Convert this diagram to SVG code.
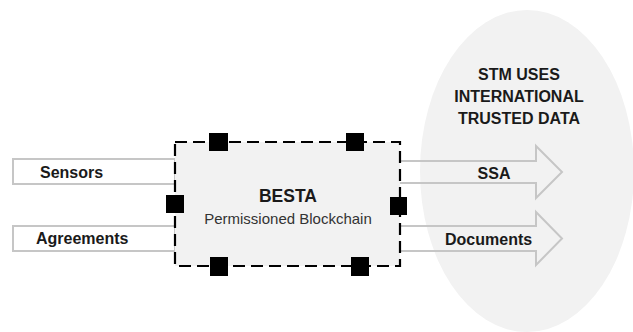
<svg xmlns="http://www.w3.org/2000/svg" width="633" height="332" viewBox="0 0 633 332">
  <style>
    .bar { fill: #ffffff; stroke: #c6c6c6; stroke-width: 2; }
    .arrow { fill: none; stroke: #c6c6c6; stroke-width: 2; stroke-linejoin: miter; }
    .lbl { font-family: "Liberation Sans", Arial, sans-serif; font-weight: bold; font-size: 16px; fill: #1a1a1a; }
    .port { fill: #000000; }
    .title { font-family: "Liberation Sans", Arial, sans-serif; font-weight: bold; font-size: 17.5px; fill: #1a1a1a; }
    .sub { font-family: "Liberation Sans", Arial, sans-serif; font-size: 15px; fill: #333333; }
  </style>
  <rect width="633" height="332" fill="#ffffff"/>

  <!-- consumer area -->
  <g id="stm">
    <ellipse cx="527" cy="171" rx="107" ry="161" fill="#f2f2f2"/>
    <text class="lbl" text-anchor="middle" x="519" y="80">STM USES</text>
    <text class="lbl" text-anchor="middle" x="519" y="102">INTERNATIONAL</text>
    <text class="lbl" text-anchor="middle" x="519" y="124">TRUSTED DATA</text>
  </g>

  <!-- inputs and outputs -->
  <g id="connectors">
    <g id="sensors">
      <rect class="bar" x="13" y="159" width="162" height="25"/>
      <text class="lbl" x="40" y="178">Sensors</text>
    </g>
    <g id="agreements">
      <rect class="bar" x="13" y="226" width="162" height="25"/>
      <text class="lbl" x="36" y="244">Agreements</text>
    </g>
    <g id="ssa">
      <path class="arrow" d="M400 161 H536 V146 L562 172 L536 198 V183 H400"/>
      <text class="lbl" text-anchor="middle" x="494" y="179">SSA</text>
    </g>
    <g id="documents">
      <path class="arrow" d="M400 226 H536 V212 L562 238.5 L536 265 V251 H400"/>
      <text class="lbl" x="445" y="245">Documents</text>
    </g>
  </g>

  <!-- ledger node -->
  <g id="besta">
    <rect x="175" y="142" width="225" height="124" fill="#f2f2f2" stroke="#000000" stroke-width="2.2" stroke-dasharray="12 6"/>
    <rect class="port" x="209" y="133" width="19" height="18"/>
    <rect class="port" x="346" y="133" width="18" height="18"/>
    <rect class="port" x="210" y="257" width="18" height="19"/>
    <rect class="port" x="351" y="257" width="18" height="19"/>
    <rect class="port" x="166" y="195" width="18" height="18"/>
    <rect class="port" x="390" y="197" width="17" height="18"/>
    <text class="title" text-anchor="middle" x="288" y="202">BESTA</text>
    <text class="sub" text-anchor="middle" x="288" y="224">Permissioned Blockchain</text>
  </g>
</svg>
